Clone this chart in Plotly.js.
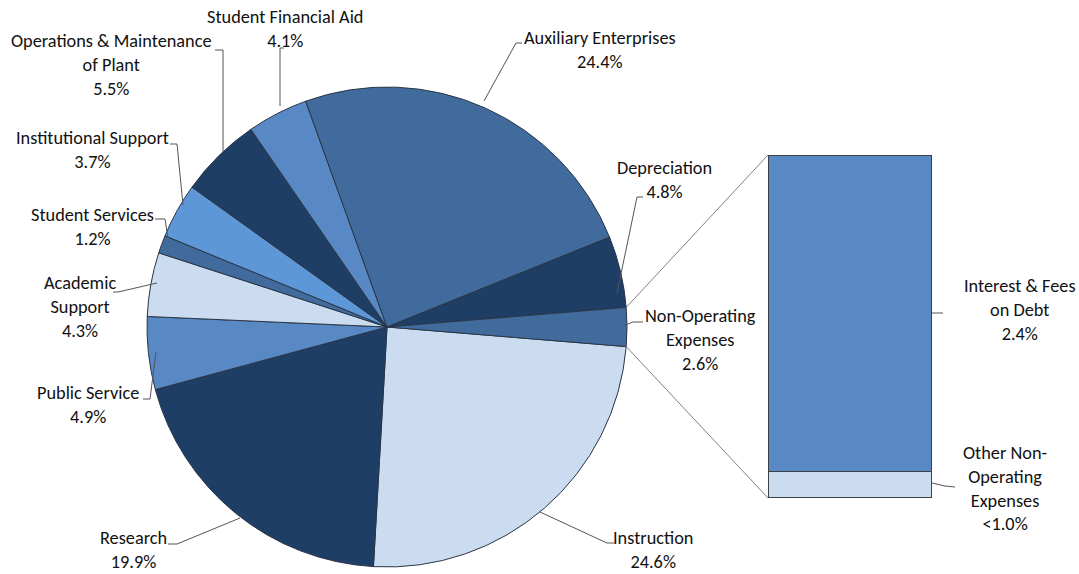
<!DOCTYPE html>
<html><head><meta charset="utf-8">
<script src="https://cdn.plot.ly/plotly-3.0.1.min.js"></script>
<style>html,body{margin:0;padding:0;background:#fff}#chart{width:1079px;height:574px}</style>
</head><body><div id="chart"></div>
<script>
// ---- data ----
const categories = ["Instruction","Research","Public Service","Academic Support","Student Services","Institutional Support","Operations & Maintenance of Plant","Student Financial Aid","Auxiliary Enterprises","Depreciation","Non-Operating Expenses"];
const shares = [24.6,19.9,4.9,4.3,1.2,3.7,5.5,4.1,24.4,4.8,2.6];
const labelNames = ["Instruction","Research","Public Service","Academic<br>Support","Student Services","Institutional Support","Operations & Maintenance<br>of Plant","Student Financial Aid","Auxiliary Enterprises","Depreciation","Non-Operating<br>Expenses"];
const breakdownCategories = ["Other Non-Operating Expenses","Interest & Fees on Debt"];
const breakdownNames = ["Other Non-<br>Operating<br>Expenses","Interest & Fees<br>on Debt"];
const breakdownShares = [0.2, 2.4];
const breakdownText = ["<1.0%","2.4%"];

// ---- styles / layout helpers ----
const W = 1079, H = 574;
const X = p => p / W, Y = p => 1 - p / H;
const NAVY = "#1f3e66", MID = "#5889c4", STEEL = "#416b9d", LIGHT = "#cbdbf0", BRIGHT = "#5e97d8";
const sliceColors = [LIGHT, NAVY, MID, LIGHT, STEEL, BRIGHT, NAVY, MID, STEEL, NAVY, STEEL];
const breakdownColors = [LIGHT, MID];
const FONT = {family: "Carlito, Lato, sans-serif", size: 18.3, color: "#111"};

const cx = 387, cy = 327, R = 240;
const total = shares.reduce((a, b) => a + b, 0);
const lastShare = shares[shares.length - 1];
const rotation = 90 + (lastShare / total) * 360 / 2;

const pie = {
  type: "pie", labels: categories, values: shares, sort: false, direction: "clockwise",
  rotation: rotation, textinfo: "none", hoverinfo: "label+percent",
  marker: {colors: sliceColors, line: {color: "#2a3646", width: 1}},
  domain: {x: [X(cx - R), X(cx + R)], y: [Y(cy + R), Y(cy - R)]},
  showlegend: false, automargin: false
};

const bars = breakdownCategories.map((c, i) => ({
  type: "bar", x: ["Non-Operating"], y: [breakdownShares[i]], name: c, width: 1,
  marker: {color: breakdownColors[i], line: {color: "#3b4048", width: 1.5}},
  xaxis: "x", yaxis: "y", showlegend: false, hoverinfo: "name+y"
}));

// label centres (px) for pie slices, in slice order
const labelPos = [[653,550],[133,550],[88,405],[80,307],[92,227],[92,150],[111,65],[285,29],[600,50],[664,180],[700,340]];
const breakdownPos = [[1005,488],[1020,310]];

const annotations = categories.map((c, i) => ({
  xref: "paper", yref: "paper", x: X(labelPos[i][0]), y: Y(labelPos[i][1]),
  xanchor: "center", yanchor: "middle", showarrow: false, align: "center",
  text: labelNames[i] + "<br>" + shares[i].toFixed(1) + "%", font: FONT
})).concat(breakdownCategories.map((c, i) => ({
  xref: "paper", yref: "paper", x: X(breakdownPos[i][0]), y: Y(breakdownPos[i][1]),
  xanchor: "center", yanchor: "middle", showarrow: false, align: "center",
  text: breakdownNames[i] + "<br>" + breakdownText[i], font: FONT
})));

// leader lines (px)
const leaders = [
  [[612,544],[605,544],[540,512]],
  [[168,544],[177,544],[240,518]],
  [[143,399],[150,399],[156,352]],
  [[113,292],[118,292],[157,283]],
  [[155,219],[165,219],[168,238]],
  [[170,144],[177,144],[183,205]],
  [[215,50],[223,50],[223,152]],
  [[284,48],[280,48],[280,106]],
  [[522,43],[516,43],[484,101]],
  [[643,197],[637,197],[617,293]],
  [[643,322],[633,322],[623,326]],
  [[932,313],[943,313]],
  [[932,483],[945,486],[955,487]]
];
leaders[0] = [[614,543],[607,543],[540,512]];
const toPath = pts => pts.map((p, i) => (i ? "L" : "M") + X(p[0]) + "," + Y(p[1])).join(" ");
const shapes = leaders.map(pts => ({type: "path", xref: "paper", yref: "paper", path: toPath(pts), line: {color: "#555", width: 1}}));

// connectors from pie split slice to the bar
const half = (lastShare / total) * Math.PI;
const px1 = cx + R * Math.cos(half), py1 = cy - R * Math.sin(half);
const py2 = cy + R * Math.sin(half);
shapes.push({type: "line", xref: "paper", yref: "paper", x0: X(px1), y0: Y(py1), x1: X(768), y1: Y(155), line: {color: "#808080", width: 1}});
shapes.push({type: "line", xref: "paper", yref: "paper", x0: X(px1), y0: Y(py2), x1: X(768), y1: Y(498), line: {color: "#808080", width: 1}});

const layout = {
  width: W, height: H, margin: {l: 0, r: 0, t: 0, b: 0},
  paper_bgcolor: "#fff", plot_bgcolor: "rgba(0,0,0,0)",
  barmode: "stack", bargap: 0,
  xaxis: {domain: [X(768), X(932)], range: [-0.5, 0.5], visible: false, fixedrange: true},
  yaxis: {domain: [Y(498), Y(155)], range: [0, breakdownShares.reduce((a, b) => a + b, 0)], visible: false, fixedrange: true},
  annotations: annotations, shapes: shapes, showlegend: false
};

Plotly.newPlot("chart", [pie].concat(bars), layout, {displayModeBar: false, staticPlot: true});
</script>
</body></html>
